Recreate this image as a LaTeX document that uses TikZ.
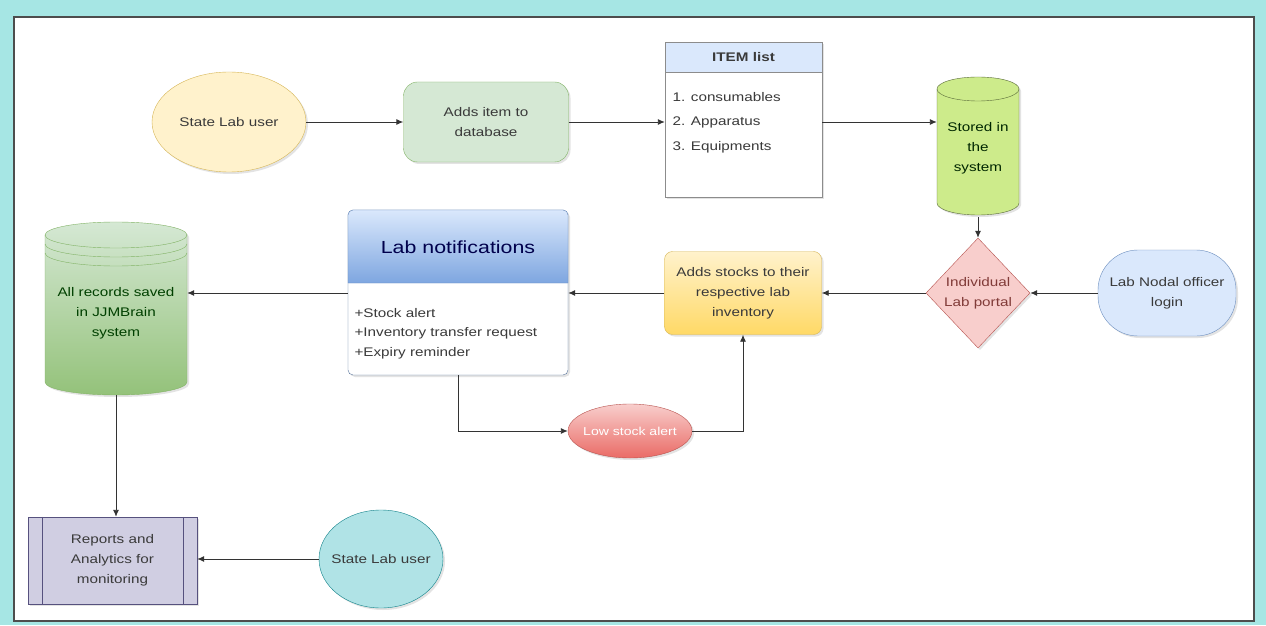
\documentclass[tikz,border=0pt]{standalone}
\usepackage{fontspec}
\setmainfont{Liberation Sans}[FakeStretch=1.22]
\usetikzlibrary{shapes.geometric,arrows.meta,shadows,calc}

\definecolor{pagebg}{HTML}{A6E6E4}
\definecolor{framec}{HTML}{4D4D4D}
\definecolor{txtc}{HTML}{3A3A3A}
\definecolor{ylwfill}{HTML}{FFF2CC}
\definecolor{ylwline}{HTML}{D6B656}
\definecolor{ylwdark}{HTML}{FFD966}
\definecolor{grnfill}{HTML}{D5E8D4}
\definecolor{grnline}{HTML}{82B366}
\definecolor{grndark}{HTML}{97D077}
\definecolor{limefill}{HTML}{CDEB8B}
\definecolor{limeline}{HTML}{5A6B3A}
\definecolor{bluefill}{HTML}{DAE8FC}
\definecolor{blueline}{HTML}{6C8EBF}
\definecolor{bluedark}{HTML}{7EA6E0}
\definecolor{redfill}{HTML}{F8CECC}
\definecolor{redline}{HTML}{B85450}
\definecolor{reddark}{HTML}{EA6B66}
\definecolor{purfill}{HTML}{D0CEE2}
\definecolor{purline}{HTML}{56517E}
\definecolor{tealfill}{HTML}{B0E3E6}
\definecolor{tealline}{HTML}{0E8088}
\definecolor{listline}{HTML}{8C8C8C}

\begin{document}
\begin{tikzpicture}[x=1pt,y=1pt,
  font=\fontsize{12.5}{20}\selectfont,
  flow/.style={draw=black!80, line width=0.9pt, -{Latex[length=7pt,width=6pt]}},
  txt/.style={text=txtc, align=center},
  soft/.style={drop shadow={opacity=0.22, shadow xshift=2pt, shadow yshift=-2pt}},
  anchorbox/.style={rectangle, minimum width=#1, inner sep=0pt},
  oval/.style={ellipse, inner sep=0pt},
]
\useasboundingbox (0,0) rectangle (1266,625);

% page and frame
\fill[pagebg] (0,0) rectangle (1266,625);
\draw[framec, fill=white, line width=2pt] (14,4) rectangle (1254,608);

% ---------- top row ----------
\node[oval, soft, draw=ylwline, fill=ylwfill, minimum width=154, minimum height=100] (user1) at (229,503) {};
\node[txt] (user1text) at (user1.center) {State Lab user};

\node[rectangle, rounded corners=14pt, soft, draw=grnline, fill=grnfill,
      minimum width=165, minimum height=80, txt] (adds) at (486,503) {Adds item to\\database};

% item list (header + body)
\node[rectangle, soft, draw=listline, fill=white, minimum width=157, minimum height=155,
      inner sep=0pt] (items) at (743.5,505.5) {};
\draw[listline, fill=bluefill] (items.north west) rectangle ($(items.north east)+(0,-30)$);
\node[txt, font=\fontsize{12.5}{20}\bfseries] (itemhead) at ($(items.north)+(0,-15)$) {ITEM list};
\node[txt, anchor=west] (it1) at (669,528) {1. consumables};
\node[txt, anchor=west] (it2) at (669,503) {2. Apparatus};
\node[txt, anchor=west] (it3) at (669,478) {3. Equipments};

% stored cylinder
\path[soft, draw=limeline, fill=limefill]
  (937,536) -- (937,422) arc[start angle=180, end angle=360, x radius=41, y radius=12]
  -- (1019,536) arc[start angle=0, end angle=180, x radius=41, y radius=12] -- cycle;
\draw[limeline] (937,536) arc[start angle=180, end angle=360, x radius=41, y radius=12];
\node[anchorbox=82, minimum height=138, txt, text=black!75!green!60!black] (stored) at (978,477)
  {Stored in\\the\\system};

% ---------- middle row ----------
\node[diamond, soft, draw=redline, fill=redfill, minimum width=104, minimum height=110,
      inner sep=0pt, txt, text=redline!70!black] (portal) at (978,332) {Individual\\Lab portal};

\node[rectangle, rounded corners=40pt, soft, draw=blueline, fill=bluefill,
      minimum width=138, minimum height=86, inner sep=2pt, txt] (nodal) at (1167,332)
      {Lab Nodal officer\\login};

\node[rectangle, rounded corners=8pt, soft, draw=ylwline, top color=ylwfill, bottom color=ylwdark,
      minimum width=157, minimum height=83, inner sep=2pt, txt] (stock) at (743,332)
      {Adds stocks to their\\respective lab\\inventory};

% lab notifications card
\node[rectangle, rounded corners=5pt, soft, draw=blueline!80!black, fill=white,
      minimum width=220, minimum height=165, inner sep=0pt] (notif) at (458,332.5) {};
\path[top color=bluefill, bottom color=bluedark, draw=blueline]
  (348,342) [rounded corners=5pt] -- (348,415) -- (568,415) [sharp corners] -- (568,342) -- cycle;
\node[txt, text=blue!30!black, font=\fontsize{17.5}{20}\selectfont] (notifhead) at (458,378) {Lab notifications};
\node[txt, anchor=west] (n1) at (351,312) {+Stock alert};
\node[txt, anchor=west] (n2) at (351,292) {+Inventory transfer request};
\node[txt, anchor=west] (n3) at (351,272) {+Expiry reminder};

% records datastore
\path[soft, draw=grnline, top color=grnfill, bottom color=grndark!90!black!90]
  (45,390) -- (45,243) arc[start angle=180, end angle=360, x radius=71, y radius=13]
  -- (187,390) arc[start angle=0, end angle=180, x radius=71, y radius=13] -- cycle;
\draw[grnline] (45,390) arc[start angle=180, end angle=360, x radius=71, y radius=13];
\draw[grnline] (45,381) arc[start angle=180, end angle=360, x radius=71, y radius=13];
\draw[grnline] (45,372) arc[start angle=180, end angle=360, x radius=71, y radius=13];
\node[anchorbox=142, minimum height=173, txt] (records) at (116,316.5) {};
\node[txt, text=green!25!black] (recordstext) at (116,312) {All records saved\\in JJMBrain\\system};

% low stock alert
\node[oval, soft, draw=redline, top color=redfill, bottom color=reddark,
      minimum width=124, minimum height=54] (low) at (630,194) {};
\node[txt, text=white, font=\fontsize{11.5}{20}\selectfont] (lowtext) at (low.center) {Low stock alert};

% ---------- bottom row ----------
\node[rectangle, soft, draw=purline, fill=purfill, minimum width=169, minimum height=87, txt]
  (reports) at (112.5,64.5) {Reports and\\Analytics for\\monitoring};
\draw[purline] ([xshift=14pt]reports.north west) -- ([xshift=14pt]reports.south west);
\draw[purline] ([xshift=-14pt]reports.north east) -- ([xshift=-14pt]reports.south east);

\node[oval, soft, draw=tealline, fill=tealfill, minimum width=124, minimum height=98] (user2) at (381,66) {};
\node[txt] (user2text) at (user2.center) {State Lab user};

% ---------- connectors ----------
\draw[flow] (user1.east) -- (adds.west);
\draw[flow] (adds.east) -- (items.west |- adds.east);
\draw[flow] (items.east |- adds.east) -- (stored.west |- adds.east);
\draw[flow] (stored.south) -- (portal.north);
\draw[flow] (nodal.west) -- (portal.east);
\draw[flow] (portal.west) -- (stock.east);
\draw[flow] (stock.west) -- (notif.east |- stock.west);
\draw[flow] (notif.west |- stock.west) -- (records.east |- stock.west);
\draw[flow] (records.south) -- (records.south |- reports.north);
\draw[flow] (user2.west) -- (reports.east |- user2.west);
\draw[flow] (notif.south) |- (low.west);
\draw[flow] (low.east) -| (stock.south);

\end{tikzpicture}
\end{document}
